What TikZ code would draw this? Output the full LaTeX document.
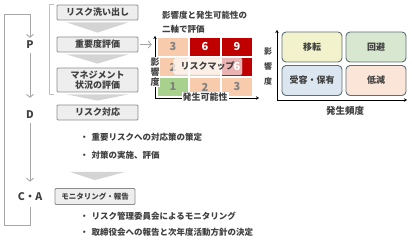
\documentclass[tikz,border=0pt]{standalone}
\usepackage{fontspec}
\setmainfont{Noto Sans CJK JP}
\usepackage{tikz}
\usetikzlibrary{arrows.meta,positioning,calc}

\definecolor{txt}{HTML}{404040}
\definecolor{lineg}{HTML}{A6A6A6}
\definecolor{boxfill}{HTML}{EEEEEE}
\definecolor{boxline}{HTML}{8C8C8C}
\definecolor{chev}{HTML}{D4D4D4}
\definecolor{peach}{HTML}{F8CBAD}
\definecolor{riskred}{HTML}{C00000}
\definecolor{lowgreen}{HTML}{A9D18E}
\definecolor{numgray}{HTML}{808080}
\definecolor{qline}{HTML}{5E6E76}
\definecolor{qyellow}{HTML}{F2F2CC}
\definecolor{qgreen}{HTML}{D8E8D0}
\definecolor{qblue}{HTML}{DCE6F0}
\definecolor{qpeach}{HTML}{FBE5D8}

\begin{document}
\begin{tikzpicture}[%
    x=1pt, y=-1pt,
    every node/.style={font=\bfseries\fontsize{9}{11}\selectfont,text=txt},
    stepbox/.style={draw=boxline,fill=boxfill,line width=0.8pt,rounded corners=1pt,
        minimum width=81pt,minimum height=15pt,inner sep=1pt,align=center},
    phase/.style={font=\bfseries\fontsize{10.5}{12}\selectfont,inner sep=1pt},
    flow/.style={draw=lineg,line width=0.9pt,-{Straight Barb[length=3pt,width=7pt]}},
    chevron/.style={fill=chev},
    cell/.style={minimum width=30pt,minimum height=18pt,inner sep=0pt,
        font=\bfseries\fontsize{11}{12}\selectfont},
    quad/.style={draw=qline,line width=0.9pt,rounded corners=4pt,
        minimum width=60pt,minimum height=30pt,inner sep=0pt},
    axis/.style={draw=black,line width=0.8pt,-{Stealth[length=3pt,width=3.5pt]}},
    bullet/.style={anchor=west,inner sep=0pt,font=\bfseries\fontsize{8.5}{10}\selectfont}
]
\useasboundingbox (0,0) rectangle (412,245);

% ---------------- PDCA column ----------------
\node[phase] (p) at (30,45) {P};
\node[phase] (d) at (30,115) {D};
\node[phase] (ca) at (30,197) {C・A};
\coordinate (lb) at (4,225);
\coordinate (lt) at (4,14);

\draw[flow,shorten <=3pt,shorten >=12pt] (p) -- (d);
\draw[flow,shorten <=3pt,shorten >=10pt] (d) -- (ca);
\draw[flow,shorten <=5pt,shorten >=2pt] (ca.south) |- (lb) -- (lt) -| (p.north);

% ---------------- Steps ----------------
\node[stepbox] (wash) at (97.5,12.5) {リスク洗い出し};
\node[stepbox] (rank) at (97.5,44.5) {重要度評価};
\node[stepbox,minimum height=24pt,font=\bfseries\fontsize{9}{10.5}\selectfont] (mgmt) at (97.5,80) {マネジメント\\状況の評価};
\node[stepbox] (resp) at (97.5,112.5) {リスク対応};
\node[stepbox,minimum width=80pt,minimum height=16pt,font=\bfseries\fontsize{7.5}{9}\selectfont] (mon) at (95,196.5) {モニタリング・報告};

\foreach \a/\b in {wash/rank,rank/mgmt,mgmt/resp} {
    \fill[chevron] ($(\a.south)+(-31,2)$) -- ($(\a.south)+(31,2)$) -- ($(\b.north)+(0,-4)$) -- cycle;
}
\fill[chevron] (70,172) -- (125,172) -- ($(mon.north)+(0,-8)$) -- cycle;

% bracket round the P steps
\draw[draw=lineg!70,line width=0.8pt] (54,4) -- (49,4) -- (49,94) -- (54,94);

% ---------------- Bullets ----------------
\foreach \y/\t in {137/重要リスクへの対応策の策定, 155/対策の実施、評価,
                   216/リスク管理委員会によるモニタリング, 232/取締役会への報告と次年度活動方針の決定} {
    \node[bullet] at (80,\y) {・\hspace{3pt}\t};
}

% ---------------- Risk map ----------------
\node[anchor=north west,align=left,inner sep=0pt,font=\bfseries\fontsize{8.5}{14}\selectfont] (mtitle) at (162,11) {影響度と発生可能性の\\二軸で評価};

\foreach \v/\fc/\tc/\i/\j in {3/peach/numgray/1/1, 6/riskred/white/2/1, 9/riskred/white/3/1,
                              2/peach/numgray/1/2, /peach/numgray/2/2, 6/riskred/white/3/2,
                              1/lowgreen/numgray/1/3, 2/peach/numgray/2/3, 3/peach/numgray/3/3} {
    \node[cell,fill=\fc,text=\tc] (m\i\j) at (141+32*\i,27+20*\j) {\v};
}

\node[draw=gray!50,fill=white,fill opacity=0.7,text opacity=1,rounded corners=1.5pt,
      minimum width=69pt,minimum height=17pt,inner sep=0pt] (rmap) at (207.5,66.5) {リスクマップ};

\draw[flow,shorten <=2pt,shorten >=6pt] (rank.east) -- (rank.east -| m11.west);

\coordinate (mo) at (155,98);
\coordinate (my) at (155,36);
\coordinate (mx) at (259,98);
\draw[axis] (mo) -- (my);
\draw[axis] (mo) -- (mx);
\node[fill=white,inner sep=1pt] (mxl) at (205,97) {発生可能性};
\node[fill=white,inner sep=0.5pt,align=center,font=\bfseries\fontsize{9}{10}\selectfont] (myl) at (155,72) {影\\響\\度};

% ---------------- Response matrix ----------------
\node[quad,fill=qyellow] (q1) at (312,47) {移転};
\node[quad,fill=qgreen] (q2) at (376,47) {回避};
\node[quad,fill=qblue] (q3) at (312,80.5) {受容・保有};
\node[quad,fill=qpeach] (q4) at (376,80.5) {低減};

\coordinate (ro) at (277,100);
\coordinate (ry) at (277,30);
\coordinate (rx) at (407,100);
\draw[axis] (ro) -- (ry);
\draw[axis] (ro) -- (rx);
\node[align=center,inner sep=0pt,font=\bfseries\fontsize{8}{15}\selectfont] (ryl) at (268,67) {影\\響\\度};
\node[font=\bfseries\fontsize{9.5}{11}\selectfont] (rxl) at (345,111) {発生頻度};

\end{tikzpicture}
\end{document}
